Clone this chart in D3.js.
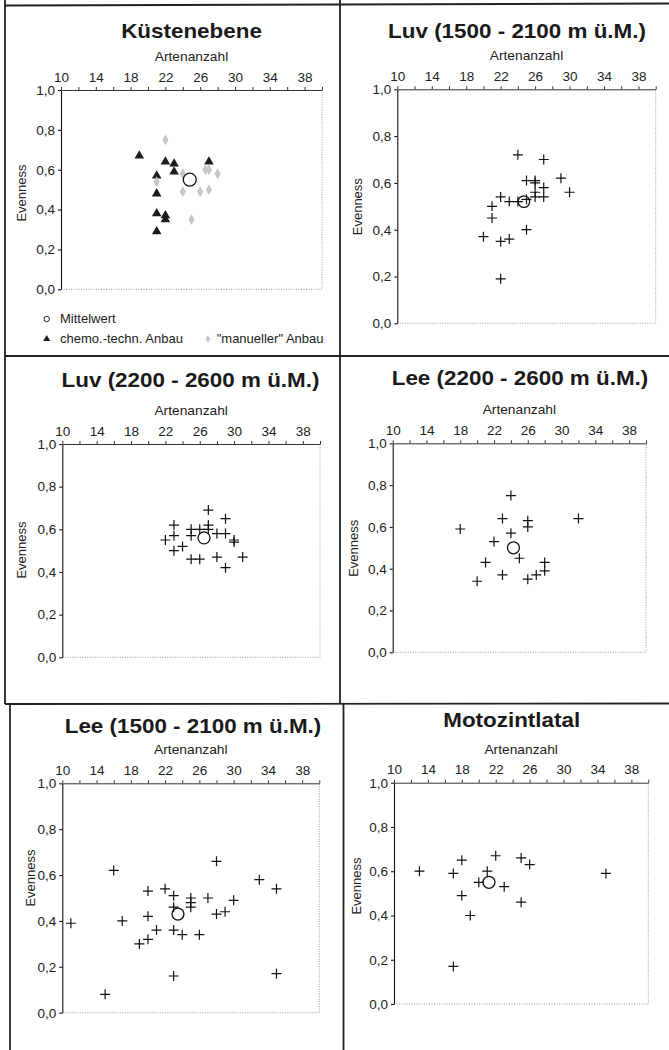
<!DOCTYPE html>
<html>
<head>
<meta charset="utf-8">
<script src="https://cdn.jsdelivr.net/npm/d3@7"></script>
<style>
  body { margin: 0; background: #fff; }
  svg { display: block; font-family: "Liberation Sans", Arial, sans-serif; }
</style>
</head>
<body>
<svg id="chart" width="669" height="1050"></svg>
<script>
// --- data ---
const titles = ['Küstenebene', 'Luv (1500 - 2100 m ü.M.)', 'Luv (2200 - 2600 m ü.M.)',
  'Lee (2200 - 2600 m ü.M.)', 'Lee (1500 - 2100 m ü.M.)', 'Motozintlatal'];
const xTitle = 'Artenanzahl';
const yTitle = 'Evenness';
const xTickLabels = [10, 14, 18, 22, 26, 30, 34, 38];
const yTickLabels = [0, 0.2, 0.4, 0.6, 0.8, 1.0];
const legendLabels = ['Mittelwert', 'chemo.-techn. Anbau', '"manueller" Anbau'];

// [Artenanzahl, Evenness]
const kuesteChemo = [[19, 0.67], [22, 0.64], [23, 0.63], [23, 0.59], [27, 0.64], [21, 0.57],
  [21, 0.48], [21, 0.38], [22, 0.37], [22, 0.35], [21, 0.29]];
const kuesteManuell = [[22, 0.75], [21, 0.54], [24, 0.58], [24, 0.49], [26, 0.49], [27, 0.50],
  [27, 0.60], [26.6, 0.60], [28, 0.58], [25, 0.35]];
const luvLow = [[24, 0.72], [27, 0.70], [25, 0.61], [26, 0.61], [26, 0.60], [26, 0.56], [27, 0.58],
  [27, 0.54], [26, 0.54], [29, 0.62], [30, 0.56], [22, 0.54], [23, 0.52], [24, 0.52], [25, 0.53],
  [21, 0.50], [21, 0.45], [20, 0.37], [22, 0.35], [23, 0.36], [25, 0.40], [22, 0.19]];
const luvHigh = [[27, 0.69], [29, 0.65], [23, 0.62], [25, 0.60], [26, 0.60], [27, 0.62], [27, 0.60],
  [28, 0.58], [29, 0.58], [30, 0.55], [30, 0.54], [25, 0.57], [23, 0.57], [22, 0.55], [23, 0.50],
  [24, 0.52], [25, 0.46], [26, 0.46], [28, 0.47], [29, 0.42], [31, 0.47]];
const leeHigh = [[24, 0.75], [23, 0.64], [26, 0.63], [26, 0.60], [32, 0.64], [18, 0.59], [24, 0.57],
  [22, 0.53], [25, 0.45], [21, 0.43], [28, 0.43], [28, 0.39], [27, 0.37], [26, 0.35], [23, 0.37],
  [20, 0.34]];
const leeLow = [[11, 0.39], [15, 0.08], [16, 0.62], [17, 0.40], [19, 0.30], [20, 0.32], [20, 0.42],
  [20, 0.53], [21, 0.36], [22, 0.54], [23, 0.51], [23, 0.46], [23, 0.36], [23, 0.16], [24, 0.34],
  [25, 0.50], [25, 0.48], [25, 0.46], [26, 0.34], [27, 0.50], [28, 0.66], [28, 0.43], [29, 0.44],
  [30, 0.49], [33, 0.58], [35, 0.54], [35, 0.17]];
const motozintla = [[13, 0.60], [17, 0.59], [17, 0.17], [18, 0.65], [18, 0.49], [19, 0.40],
  [20, 0.55], [21, 0.60], [22, 0.67], [23, 0.53], [25, 0.66], [26, 0.63], [25, 0.46], [35, 0.59]];
const means = [[24.8, 0.55], [24.7, 0.52], [26.5, 0.56], [24.3, 0.50], [23.5, 0.43], [21.2, 0.55]];

// --- which series go in which panel, and how they are drawn ---
const panelSeries = [
  [{ pts: kuesteChemo, kind: 'triangle' }, { pts: kuesteManuell, kind: 'diamond' }],
  [{ pts: luvLow, kind: 'cross' }],
  [{ pts: luvHigh, kind: 'cross' }],
  [{ pts: leeHigh, kind: 'cross' }],
  [{ pts: leeLow, kind: 'cross' }],
  [{ pts: motozintla, kind: 'cross' }]
];

// plot boxes [left, top, right, bottom], title centre/baseline, y-title centre
const layout = [
  { box: [61, 90, 322, 289.3], title: [191.5, 38], yLab: [21.7, 193], r: 6.5 },
  { box: [397.3, 89.3, 655.7, 323.3], title: [517, 38], yLab: [357.7, 206.7], r: 5.8 },
  { box: [62.3, 444, 320, 657.3], title: [190.5, 386.7], yLab: [21.7, 550], r: 6 },
  { box: [392.7, 443.3, 646, 652.3], title: [520, 385], yLab: [353.3, 548.3], r: 6 },
  { box: [62.3, 783.3, 319.3, 1012.7], title: [193, 733.3], yLab: [30, 878], r: 6 },
  { box: [394, 782.7, 648.3, 1004], title: [511.7, 726.7], yLab: [356.7, 886], r: 6 }
];

const svg = d3.select('#chart');
svg.append('rect').attr('width', 669).attr('height', 1050).attr('fill', '#fff');

// dithered grey like the scanned "manueller" symbols
const pat = svg.append('defs').append('pattern')
  .attr('id', 'dither').attr('width', 2).attr('height', 2)
  .attr('patternUnits', 'userSpaceOnUse');
pat.append('rect').attr('width', 2).attr('height', 2).attr('fill', '#e2e2e2');
pat.append('rect').attr('width', 1).attr('height', 1).attr('fill', '#a8a8a8');
pat.append('rect').attr('x', 1).attr('y', 1).attr('width', 1).attr('height', 1).attr('fill', '#a8a8a8');

// frame of the figure (scanned, slightly shifted pieces)
const frame = svg.append('g').attr('stroke', '#222').attr('stroke-width', 1.8);
frame.append('line').attr('x1', 5).attr('y1', 0).attr('x2', 5).attr('y2', 704);
frame.append('line').attr('x1', 10).attr('y1', 704).attr('x2', 10).attr('y2', 1050);
frame.append('line').attr('x1', 340).attr('y1', 0).attr('x2', 340).attr('y2', 704);
frame.append('line').attr('x1', 343.5).attr('y1', 704).attr('x2', 343.5).attr('y2', 1050);
frame.append('line').attr('x1', 5).attr('y1', 5.5).attr('x2', 669).attr('y2', 3.5);
frame.append('line').attr('x1', 5).attr('y1', 356).attr('x2', 669).attr('y2', 356);
frame.append('line').attr('x1', 5).attr('y1', 704).attr('x2', 669).attr('y2', 703.5);

const fmtY = d => d3.format('.1f')(d).replace('.', ',');

function stretchedText(g, x, y, txt, sx) {
  return g.append('text')
    .attr('transform', `translate(${x},${y}) scale(${sx},1)`)
    .attr('text-anchor', 'middle')
    .text(txt);
}

function crossPath(cx, cy, h) {
  return `M${cx - h},${cy}H${cx + h}M${cx},${cy - h}V${cy + h}`;
}

layout.forEach((L, i) => {
  const [l, t, r, b] = L.box;
  const x = d3.scaleLinear().domain([10, 40]).range([l, r]);
  const y = d3.scaleLinear().domain([0, 1]).range([b, t]);
  const g = svg.append('g');

  // title
  stretchedText(g, L.title[0], L.title[1], titles[i], 1.15)
    .attr('font-size', 19.5).attr('font-weight', 'bold').attr('fill', '#1a1a1a');

  // x title
  stretchedText(g, (l + r) / 2, t - 29, xTitle, 1.06)
    .attr('font-size', 13).attr('fill', '#222');

  // y title
  g.append('text')
    .attr('transform', `translate(${L.yLab[0] + 4.5},${L.yLab[1]}) rotate(-90)`)
    .attr('text-anchor', 'middle')
    .attr('font-size', 13).attr('fill', '#222')
    .text(yTitle);

  // dotted right and bottom border
  g.append('path')
    .attr('d', `M${l},${b}H${r}V${t}`)
    .attr('fill', 'none').attr('stroke', '#9a9a9a')
    .attr('stroke-width', 1).attr('stroke-dasharray', '1,1.5');

  // top axis
  const xa = g.append('g').attr('transform', `translate(0,${t})`)
    .call(d3.axisTop(x).tickValues(d3.range(10, 41, 2)).tickSize(3).tickSizeOuter(0).tickPadding(5.5)
      .tickFormat(d => xTickLabels.includes(d) ? d : ''));
  xa.selectAll('text').attr('font-size', 13.5).attr('fill', '#222')
    .attr('font-family', '"Liberation Sans", Arial, sans-serif');
  xa.selectAll('line, path').attr('stroke', '#333');

  // left axis
  const ya = g.append('g').attr('transform', `translate(${l},0)`)
    .call(d3.axisLeft(y).tickValues(yTickLabels).tickSize(3).tickSizeOuter(0).tickPadding(3)
      .tickFormat(fmtY));
  ya.selectAll('text').attr('font-size', 13.5).attr('fill', '#222')
    .attr('font-family', '"Liberation Sans", Arial, sans-serif');
  ya.selectAll('line, path').attr('stroke', '#111').attr('stroke-width', 1.1);

  // points
  panelSeries[i].forEach(s => {
    if (s.kind === 'cross') {
      g.selectAll(null).data(s.pts).join('path')
        .attr('d', d => crossPath(x(d[0]), y(d[1]), 5))
        .attr('stroke', '#111').attr('stroke-width', 1.2).attr('fill', 'none');
    } else if (s.kind === 'triangle') {
      g.selectAll(null).data(s.pts).join('path')
        .attr('transform', d => `translate(${x(d[0])},${y(d[1])})`)
        .attr('d', d3.symbol(d3.symbolTriangle, 40))
        .attr('fill', '#1c1c1c');
    } else {
      g.selectAll(null).data(s.pts).join('path')
        .attr('transform', d => `translate(${x(d[0])},${y(d[1])})`)
        .attr('d', d3.symbol(d3.symbolDiamond, 34))
        .attr('fill', 'url(#dither)');
    }
  });

  // mean
  g.append('circle')
    .attr('cx', x(means[i][0])).attr('cy', y(means[i][1])).attr('r', L.r)
    .attr('fill', 'none').attr('stroke', '#111').attr('stroke-width', 1.3);
});

// legend of the first panel
const lg = svg.append('g').attr('font-size', 13).attr('fill', '#222');
lg.append('circle').attr('cx', 46.7).attr('cy', 319).attr('r', 2.7)
  .attr('fill', 'none').attr('stroke', '#222').attr('stroke-width', 1);
lg.append('text').attr('x', 60).attr('y', 323).text(legendLabels[0]);
lg.append('path').attr('transform', 'translate(46.7,339)')
  .attr('d', d3.symbol(d3.symbolTriangle, 22)).attr('fill', '#1c1c1c');
lg.append('text').attr('x', 60).attr('y', 343).text(legendLabels[1]);
lg.append('path').attr('transform', 'translate(208,339)')
  .attr('d', d3.symbol(d3.symbolDiamond, 18)).attr('fill', 'url(#dither)');
lg.append('text').attr('x', 216.7).attr('y', 343).text(legendLabels[2]);
</script>
</body>
</html>
